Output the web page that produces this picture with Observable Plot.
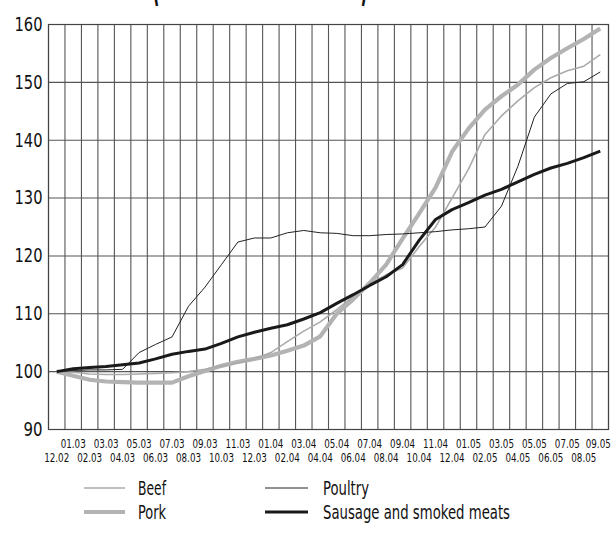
<!DOCTYPE html>
<html>
<head>
<meta charset="utf-8">
<script src="https://cdn.jsdelivr.net/npm/d3@7"></script>
<script src="https://cdn.jsdelivr.net/npm/@observablehq/plot@0.6"></script>
<style>
  html, body { margin: 0; padding: 0; background: #fff; }
  body { width: 614px; height: 550px; position: relative; overflow: hidden;
         font-family: "Liberation Sans Narrow", "DejaVu Sans Condensed", "DejaVu Sans", sans-serif; }
  #title, #chart svg, #legend { display: block; }
</style>
</head>
<body>
<svg id="title" width="614" height="8"></svg>
<div id="chart"></div>
<svg id="legend" width="614" height="81"></svg>
<script>
const months = ["12.02","01.03","02.03","03.03","04.03","05.03","06.03","07.03","08.03","09.03","10.03","11.03","12.03",
  "01.04","02.04","03.04","04.04","05.04","06.04","07.04","08.04","09.04","10.04","11.04","12.04",
  "01.05","02.05","03.05","04.05","05.05","06.05","07.05","08.05","09.05"];
const beef =    [100, 99.9, 99.6, 99.5, 99.5, 99.6, 99.7, 99.8, 100.0, 100.4, 101.0, 101.5, 102.2, 103.3, 105.2, 107.0, 108.6, 110.7, 113.0, 115.2, 116.7, 117.9, 121.6, 125.0, 130.0, 135.0, 141.0, 144.2, 146.8, 149.1, 150.8, 152.0, 152.8, 154.8];
const pork =    [100, 99.3, 98.6, 98.3, 98.2, 98.1, 98.1, 98.1, 99.2, 100.1, 101.0, 101.7, 102.2, 102.8, 103.6, 104.5, 106.1, 110.0, 112.5, 115.3, 118.5, 123.0, 127.3, 131.8, 138.0, 142.0, 145.3, 147.6, 149.6, 152.2, 154.2, 155.9, 157.5, 159.3];
const poultry = [100, 100.2, 100.3, 100.3, 100.4, 103.3, 104.7, 106.0, 111.3, 114.6, 118.5, 122.4, 123.1, 123.1, 124.0, 124.4, 124.0, 123.9, 123.5, 123.5, 123.7, 123.8, 124.0, 124.2, 124.5, 124.7, 125.0, 128.6, 135.5, 144.0, 148.0, 149.8, 150.1, 151.8];
const sausage = [100, 100.5, 100.7, 100.9, 101.2, 101.5, 102.2, 103.0, 103.5, 103.9, 104.9, 106.0, 106.8, 107.5, 108.1, 109.1, 110.2, 111.8, 113.3, 114.9, 116.4, 118.5, 122.7, 126.3, 128.0, 129.2, 130.5, 131.5, 132.8, 134.1, 135.2, 136.0, 137.0, 138.1];
const yTicks = [90, 100, 110, 120, 130, 140, 150, 160];
const titleText = "(December 2002 = 100)";

const series = [
  {name: "Pork", values: pork, stroke: "#b3b3b3", width: 4.2},
  {name: "Beef", values: beef, stroke: "#ababab", width: 1.6},
  {name: "Poultry", values: poultry, stroke: "#222", width: 1},
  {name: "Sausage and smoked meats", values: sausage, stroke: "#1a1a1a", width: 3}
];
const idx = d3.range(months.length);
const font = '"Liberation Sans Narrow", "DejaVu Sans Condensed", "DejaVu Sans", sans-serif';

// title (only the lower tips of the brackets show, as in the reference)
d3.select("#title").append("text")
  .attr("x", 152).attr("y", -1)
  .attr("font-family", font).attr("font-size", 52).attr("font-weight", "bold").attr("fill", "#111")
  .attr("textLength", 216).attr("lengthAdjust", "spacingAndGlyphs")
  .text(titleText);

const chart = Plot.plot({
  width: 614,
  height: 461,
  marginLeft: 48,
  marginRight: 6,
  marginTop: 16,
  marginBottom: 40,
  style: {fontFamily: font, background: "#fff"},
  x: {domain: [-0.5, months.length - 0.5], axis: null},
  y: {domain: [90, 160], axis: null},
  marks: [
    Plot.ruleX(d3.range(months.length + 1).map(i => i - 0.5), {stroke: "#555", strokeWidth: 1.1}),
    Plot.ruleY(yTicks, {stroke: "#555", strokeWidth: 1.1}),
    Plot.frame({stroke: "#444", strokeWidth: 1.2}),
    ...series.map(s => Plot.line(idx, {x: i => i, y: i => s.values[i], stroke: s.stroke, strokeWidth: s.width, strokeLinejoin: "round", strokeLinecap: "butt"})),
    Plot.text(yTicks, {x: -0.5, y: d => d, text: d => String(d), textAnchor: "end", dx: -6, fontSize: 20, fill: "#111"}),
    Plot.text(idx.filter(i => i % 2 === 1 && i < months.length - 1), {x: i => i, text: i => months[i], frameAnchor: "bottom", dy: 18, fontSize: 13, fill: "#111"}),
    Plot.text([months.length - 1], {x: i => i, text: i => months[i], frameAnchor: "bottom", dy: 18, dx: -2, fontSize: 13, fill: "#111"}),
    Plot.text(idx.filter(i => i % 2 === 0), {x: i => i, text: i => months[i], frameAnchor: "bottom", dy: 32, fontSize: 13, fill: "#111"})
  ]
});
// condense the tick labels to match the narrow typeface of the original
d3.select(chart).selectAll("text").each(function() {
  const t = this.textContent;
  const w = t.length === 5 ? 25 : t.length === 3 ? 28 : 19;
  this.setAttribute("textLength", w);
  this.setAttribute("lengthAdjust", "spacingAndGlyphs");
});
document.getElementById("chart").appendChild(chart);

// legend
const lg = d3.select("#legend");
const items = [
  {s: series[1], x1: 84, x2: 125, tx: 138, y: 19, w: 28},
  {s: series[0], x1: 84, x2: 125, tx: 138, y: 43, w: 28},
  {s: series[2], x1: 265, x2: 308, tx: 323, y: 19, w: 46},
  {s: series[3], x1: 265, x2: 308, tx: 323, y: 43, w: 187}
];
for (const it of items) {
  lg.append("line").attr("x1", it.x1).attr("x2", it.x2).attr("y1", it.y).attr("y2", it.y)
    .attr("stroke", it.s.stroke).attr("stroke-width", it.s.width);
  lg.append("text").attr("x", it.tx).attr("y", it.y).attr("dy", "0.35em")
    .attr("font-family", font).attr("font-size", 19).attr("fill", "#111")
    .attr("textLength", it.w).attr("lengthAdjust", "spacingAndGlyphs")
    .text(it.s.name);
}
</script>
</body>
</html>
